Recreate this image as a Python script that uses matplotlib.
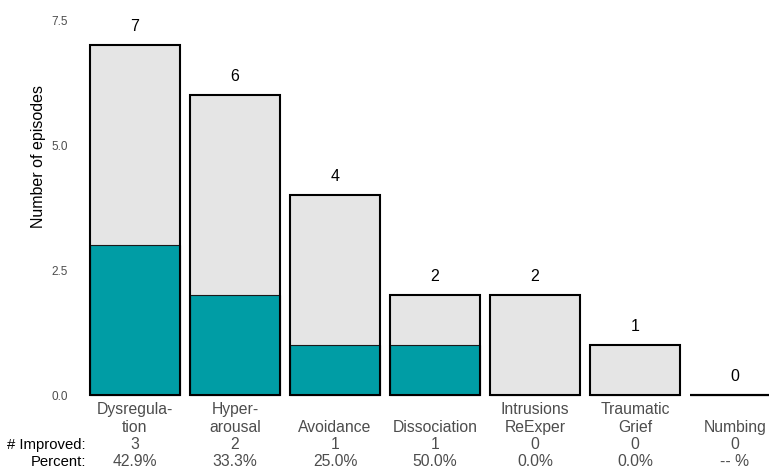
import matplotlib
matplotlib.use("Agg")
import matplotlib.pyplot as plt
import matplotlib.transforms as mtransforms

categories = ["Dysregula-\ntion", "Hyper-\narousal", "Avoidance", "Dissociation",
              "Intrusions\nReExper", "Traumatic\nGrief", "Numbing"]
totals = [7, 6, 4, 2, 2, 1, 0]
improved = [3, 2, 1, 1, 0, 0, 0]
percents = ["42.9%", "33.3%", "25.0%", "50.0%", "0.0%", "0.0%", "-- %"]
yticks = [0.0, 2.5, 5.0, 7.5]

plt.rcParams['font.family'] = ['Liberation Sans', 'DejaVu Sans']

W, H = 769, 469
fig = plt.figure(figsize=(W / 100, H / 100), dpi=100)
# x: 0.4 -> 75px, 7.6 -> 795px ; y: -0.2 -> 405px, 7.7 -> 10px
ax = fig.add_axes([75 / W, (H - 405) / H, 720 / W, 395 / H])
ax.set_xlim(0.4, 7.6)
ax.set_ylim(-0.2, 7.7)

x = list(range(1, len(categories) + 1))
ax.bar(x, totals, width=0.9, color="#E5E5E5", edgecolor="none", zorder=2)
ax.bar(x, improved, width=0.9, color="#009DA5", edgecolor="#1a1a1a", linewidth=0.8, zorder=3)
ax.bar(x, totals, width=0.9, fill=False, edgecolor="black", linewidth=1.5, zorder=4)

for xi, t in zip(x, totals):
    ax.annotate(str(t), (xi, t), xytext=(0, 8), textcoords="offset points",
                ha="center", va="bottom", fontsize=11.5, color="black")

for s in ax.spines.values():
    s.set_visible(False)
ax.set_yticks(yticks)
ax.set_yticklabels([f"{v:.1f}" for v in yticks], fontsize=8.5, color="#4D4D4D")
ax.tick_params(axis="y", length=0, pad=5)
ax.set_xticks([])

fig.text(39 / W, 1 - 157 / H, "Number of episodes", rotation=90, ha="center",
         va="center", fontsize=11.5, color="black")

# category labels + stats (bottom-aligned blocks)
blend = mtransforms.blended_transform_factory(ax.transData, fig.transFigure)
for xi, c, imp, p in zip(x, categories, improved, percents):
    lines = c.split("\n")
    if len(lines) == 1:
        lines = [""] + lines
    lab = "\n".join(lines + [str(imp), p])
    ax.text(xi, 3 / H, lab, transform=blend, ha="center", va="baseline",
            fontsize=11.3, color="#4D4D4D", linespacing=1.185, clip_on=False)

fig.text(86 / W, 3 / H, "# Improved:\nPercent:", ha="right", va="baseline",
         fontsize=10.7, color="black", linespacing=1.24, multialignment="right")

fig.savefig("out.png", dpi=100, facecolor="white")
